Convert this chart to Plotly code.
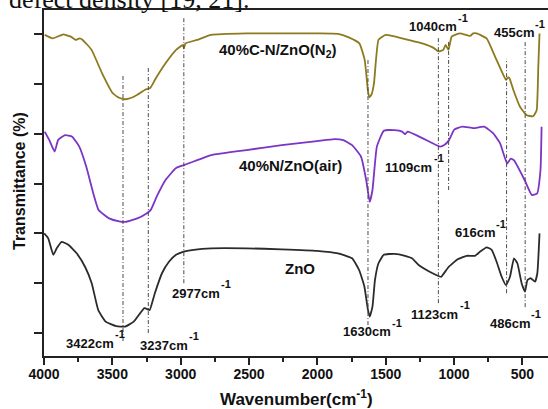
import plotly.graph_objects as go

# ---------------- data (wavenumber in cm^-1, transmittance in arbitrary offset units) -------------
zno_wn = [3998, 3969, 3932, 3907, 3871, 3822, 3761, 3700, 3651, 3603, 3549, 3472, 3407, 3343, 3266,
          3237, 3227, 3189, 3137, 3086, 3034, 2983, 2905, 2776, 2519, 2261, 2003, 1849, 1746, 1694,
          1656, 1630, 1617, 1597, 1579, 1553, 1514, 1436, 1359, 1308, 1257, 1179, 1110, 1094, 1042,
          974, 908, 847, 811, 762, 725, 689, 652, 620, 591, 562, 537, 506, 481, 464, 440, 408, 391, 375]
zno_T = [2.00, 1.90, 1.57, 1.70, 1.83, 1.77, 1.60, 1.33, 1.00, 0.46, 0.23, 0.14, 0.13, 0.23, 0.50,
         0.47, 0.46, 0.80, 1.20, 1.43, 1.57, 1.63, 1.67, 1.70, 1.70, 1.68, 1.65, 1.60, 1.50, 1.26,
         0.93, 0.46, 0.33, 0.53, 1.06, 1.40, 1.57, 1.59, 1.55, 1.50, 1.36, 1.23, 1.14, 1.13, 1.32,
         1.48, 1.55, 1.55, 1.63, 1.72, 1.67, 1.43, 1.13, 0.96, 1.13, 1.50, 1.40, 1.00, 0.83, 1.06,
         1.10, 1.03, 1.20, 2.00]

nzno_wn = [3995, 3961, 3922, 3897, 3846, 3794, 3742, 3691, 3639, 3601, 3523, 3450, 3407, 3317, 3250,
           3219, 3175, 3111, 3034, 2974, 2776, 2519, 2261, 2003, 1875, 1810, 1746, 1681, 1643, 1617,
           1597, 1565, 1514, 1436, 1380, 1359, 1340, 1232, 1103, 1072, 1037, 999, 940, 858, 780,
           715, 664, 612, 585, 560, 484, 432, 393, 368, 360]
nzno_T = [4.04, 3.87, 3.64, 3.87, 3.97, 3.94, 3.74, 3.34, 2.80, 2.47, 2.30, 2.24, 2.23, 2.30, 2.40,
          2.47, 2.74, 3.07, 3.31, 3.37, 3.57, 3.67, 3.77, 3.85, 3.89, 3.87, 3.77, 3.54, 3.07, 2.63,
          2.87, 3.74, 4.06, 4.07, 4.04, 3.99, 4.04, 3.91, 3.74, 3.77, 3.87, 4.08, 4.14, 4.11, 4.14,
          4.01, 3.81, 3.40, 3.50, 3.46, 3.07, 2.77, 2.80, 3.27, 4.14]

cnzno_wn = [3995, 3936, 3880, 3858, 3807, 3768, 3740, 3717, 3652, 3575, 3497, 3450, 3407, 3360, 3317,
            3260, 3235, 3219, 3188, 3111, 3034, 2983, 2977, 2965, 2880, 2778, 2519, 2003, 1849, 1771,
            1693, 1654, 1630, 1620, 1605, 1586, 1553, 1501, 1438, 1334, 1232, 1150, 1115, 1079, 1062,
            1041, 1017, 957, 884, 860, 835, 762, 701, 640, 620, 605, 596, 567, 518, 469, 421, 396, 384, 375]
cnzno_T = [5.98, 5.91, 5.97, 5.99, 5.95, 5.88, 5.91, 5.88, 5.68, 5.21, 4.81, 4.72, 4.69, 4.72, 4.78,
           4.88, 4.90, 4.93, 5.08, 5.41, 5.68, 5.78, 5.71, 5.81, 5.88, 5.98, 6.01, 6.01, 6.00, 5.93,
           5.81, 5.48, 4.85, 4.73, 4.78, 5.01, 5.88, 5.98, 5.95, 5.88, 5.81, 5.72, 5.65, 5.68, 5.78,
           5.68, 5.95, 6.01, 5.96, 6.01, 6.01, 5.91, 5.55, 5.18, 5.08, 5.13, 5.12, 4.88, 4.54, 4.37,
           4.35, 4.47, 5.34, 6.01]

series_names = ["ZnO", "40%N/ZnO(air)", "40%C-N/ZnO(N<sub>2</sub>)"]
series_wn = [zno_wn, nzno_wn, cnzno_wn]
series_T = [zno_T, nzno_T, cnzno_T]
series_colors = ["#2b2b2b", "#7b34c4", "#8c7a1e"]
series_label_x = [2127, 2200, 2290]
series_label_y = [1.30, 3.37, 5.66]

mark_wn = [3422, 3237, 2977, 1630, 1115, 1040, 616, 480]
mark_top = [5.16, 5.32, 6.34, 5.48, 5.92, 5.88, 5.50, 5.84]
mark_bot = [-0.16, 0.00, 1.00, 0.16, 0.60, 2.87, 0.80, 0.52]

peak_text = ["3422cm", "3237cm", "2977cm", "1630cm", "1123cm", "486cm", "1109cm", "616cm", "1040cm", "455cm"]
peak_x = [3854, 3312, 3078, 1827, 1330, 752, 1520, 1008, 1345, 723]
peak_y = [-0.20, -0.24, 0.80, 0.03, 0.38, 0.20, 3.33, 2.01, 6.14, 6.02]

x_ticks = [500, 1000, 1500, 2000, 2500, 3000, 3500, 4000]
y_ticks = [0, 1, 2, 3, 4, 5, 6]

# ---------------- figure -------------
SANS = "Liberation Sans, Arial, sans-serif"
fig = go.Figure()

for wn, T, col in zip(series_wn, series_T, series_colors):
    fig.add_trace(go.Scatter(x=wn, y=T, mode="lines",
                             line=dict(color=col, width=1.8, shape="spline", smoothing=0.4),
                             showlegend=False, hoverinfo="skip"))

for xv, y0, y1 in zip(mark_wn, mark_bot, mark_top):
    fig.add_shape(type="line", xref="x", yref="y", x0=xv, x1=xv, y0=y0, y1=y1,
                  line=dict(color="#4a4a4a", width=1, dash="4px,2px,1px,2px"))

annotations = []
for name, xv, yv in zip(series_names, series_label_x, series_label_y):
    annotations.append(dict(x=xv, y=yv, xref="x", yref="y", text=name, showarrow=False,
                            xanchor="center", yanchor="middle",
                            font=dict(family=SANS, size=15, color="#111", weight="bold")))

CW = {"c": 0.556, "m": 0.889}
def text_w(s, size):
    return sum(CW.get(ch, 0.556) for ch in s) * size

PS = 13
for t, xv, yv in zip(peak_text, peak_x, peak_y):
    annotations.append(dict(x=xv, y=yv, xref="x", yref="y", text=t, showarrow=False,
                            xanchor="left", yanchor="middle",
                            font=dict(family=SANS, size=PS, color="#111", weight="bold")))
    annotations.append(dict(x=xv, y=yv, xref="x", yref="y", text="-1", showarrow=False,
                            xanchor="left", yanchor="middle", xshift=text_w(t, PS) + 1, yshift=9,
                            font=dict(family=SANS, size=11, color="#111", weight="bold")))

annotations.append(dict(x=0.5, y=0, xref="paper", yref="paper", text="Wavenumber(cm<sup>-1</sup>)",
                        showarrow=False, xanchor="center", yanchor="middle", yshift=-42,
                        font=dict(family=SANS, size=17, color="#111", weight="bold")))
annotations.append(dict(x=0, y=0.5, xref="paper", yref="paper", text="Transmittance (%)",
                        showarrow=False, xanchor="center", yanchor="middle", xshift=-25, yshift=2,
                        textangle=-90,
                        font=dict(family=SANS, size=16, color="#111", weight="bold")))
annotations.append(dict(x=0, y=1, xref="paper", yref="paper", text="defect density [19, 21].",
                        showarrow=False, xanchor="left", yanchor="bottom", xshift=-37, yshift=-6,
                        font=dict(family="Liberation Serif, Times New Roman, serif", size=26, color="#111")))

fig.update_layout(
    width=548, height=409,
    margin=dict(l=44, r=0, t=10, b=53),
    paper_bgcolor="white", plot_bgcolor="white",
    annotations=annotations,
    xaxis=dict(range=[4000, 313], tickvals=x_ticks, ticks="outside", ticklen=7, tickwidth=1.5,
               tickcolor="#222", showline=True, linewidth=1.5, linecolor="#222", mirror=True,
               showgrid=False, zeroline=False, ticklabelstandoff=-3,
               tickfont=dict(family=SANS, size=14, color="#111", weight="bold"),
               minor=dict(dtick=250, tick0=0, ticks="outside", ticklen=4, tickwidth=1.5, tickcolor="#222")),
    yaxis=dict(range=[-0.46, 6.48], tickvals=y_ticks, ticks="outside", ticklen=8, tickwidth=1.5,
               tickcolor="#222", showticklabels=False, showline=True, linewidth=1.5, linecolor="#222",
               mirror=False, showgrid=False, zeroline=False),
)

fig.write_html("out.html")
